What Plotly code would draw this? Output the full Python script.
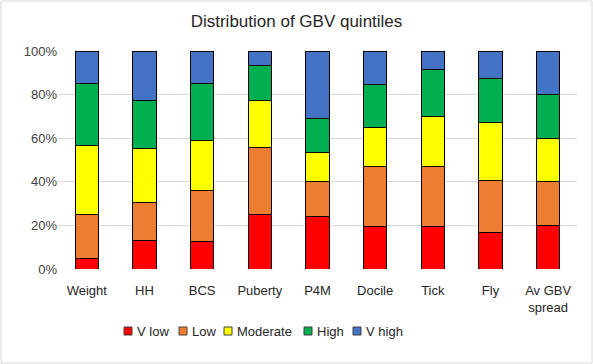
import plotly.graph_objects as go

categories = ["Weight", "HH", "BCS", "Puberty", "P4M", "Docile", "Tick", "Fly", "Av GBV<br>spread"]
v_low    = [5.0, 13.1, 12.4, 24.8, 24.2, 19.6, 19.6, 16.8, 20.0]
low      = [20.2, 17.5, 23.7, 31.0, 16.0, 27.2, 27.5, 23.9, 20.0]
moderate = [31.4, 24.8, 22.9, 21.6, 13.2, 18.0, 22.8, 26.4, 20.0]
high     = [28.6, 22.0, 26.2, 16.0, 15.6, 19.9, 21.4, 20.4, 20.0]
v_high   = [14.8, 22.6, 14.8, 6.6, 31.0, 15.3, 8.7, 12.5, 20.0]
y_ticks  = [0, 20, 40, 60, 80, 100]
y_labels = ["0%", "20%", "40%", "60%", "80%", "100%"]

series = [("V low", v_low, "#FF0000"), ("Low", low, "#ED7D31"),
          ("Moderate", moderate, "#FFFF00"), ("High", high, "#00B050"),
          ("V high", v_high, "#4472C4")]

font = "Liberation Sans, Arial, sans-serif"
fig = go.Figure()
for name, vals, col in series:
    fig.add_trace(go.Bar(x=categories, y=vals, name=name, marker_color=col,
                         marker_line_color="black", marker_line_width=1, showlegend=False))

W, H = 593, 364
ml, mr, mt, mb = 58, 16, 51, 95
pw, ph = W - ml - mr, H - mt - mb

def px(x):
    return (x - ml) / pw

def py(y):
    return (H - mb - y) / ph

shapes = [dict(type="rect", xref="paper", yref="paper",
               x0=px(1), x1=px(W - 1), y0=py(H - 1), y1=py(1),
               line=dict(color="#D9D9D9", width=1))]
annotations = []
# manual legend (pixel positions of the legend items)
legend_x = [124, 179, 224, 304, 353]
ly = 331
for (name, vals, col), lx in zip(series, legend_x):
    shapes.append(dict(type="rect", xref="paper", yref="paper",
                       x0=px(lx), x1=px(lx + 8), y0=py(ly + 4), y1=py(ly - 4),
                       fillcolor=col, line=dict(color="#404040", width=1)))
    annotations.append(dict(text=name, xref="paper", yref="paper", x=px(lx + 11), y=py(ly),
                            xanchor="left", yanchor="middle", showarrow=False,
                            font=dict(size=13, color="#262626", family=font)))

fig.update_layout(
    width=W, height=H, barmode="stack", bargap=0.6,
    margin=dict(l=ml, r=mr, t=mt, b=mb, autoexpand=False),
    paper_bgcolor="white", plot_bgcolor="white",
    font=dict(family=font, size=13, color="#404040"),
    showlegend=False,
    title=dict(text="Distribution of GBV quintiles", x=0.5, xanchor="center", y=1 - 21 / H,
               yanchor="middle", font=dict(size=17, color="#262626", family=font)),
    xaxis=dict(showgrid=False, showline=False, ticks="", automargin=False, ticklabelstandoff=12,
               tickfont=dict(size=13, color="#262626")),
    yaxis=dict(range=[0, 100], tickmode="array", tickvals=y_ticks, ticktext=y_labels,
               showgrid=True, gridcolor="#D9D9D9", gridwidth=1, zeroline=False, automargin=False,
               tickfont=dict(size=13, color="#404040"), ticks="", ticklen=0),
    shapes=shapes, annotations=annotations,
)
fig.write_html("out.html", post_script="document.body.style.margin='0';",
               config={"displayModeBar": False})
